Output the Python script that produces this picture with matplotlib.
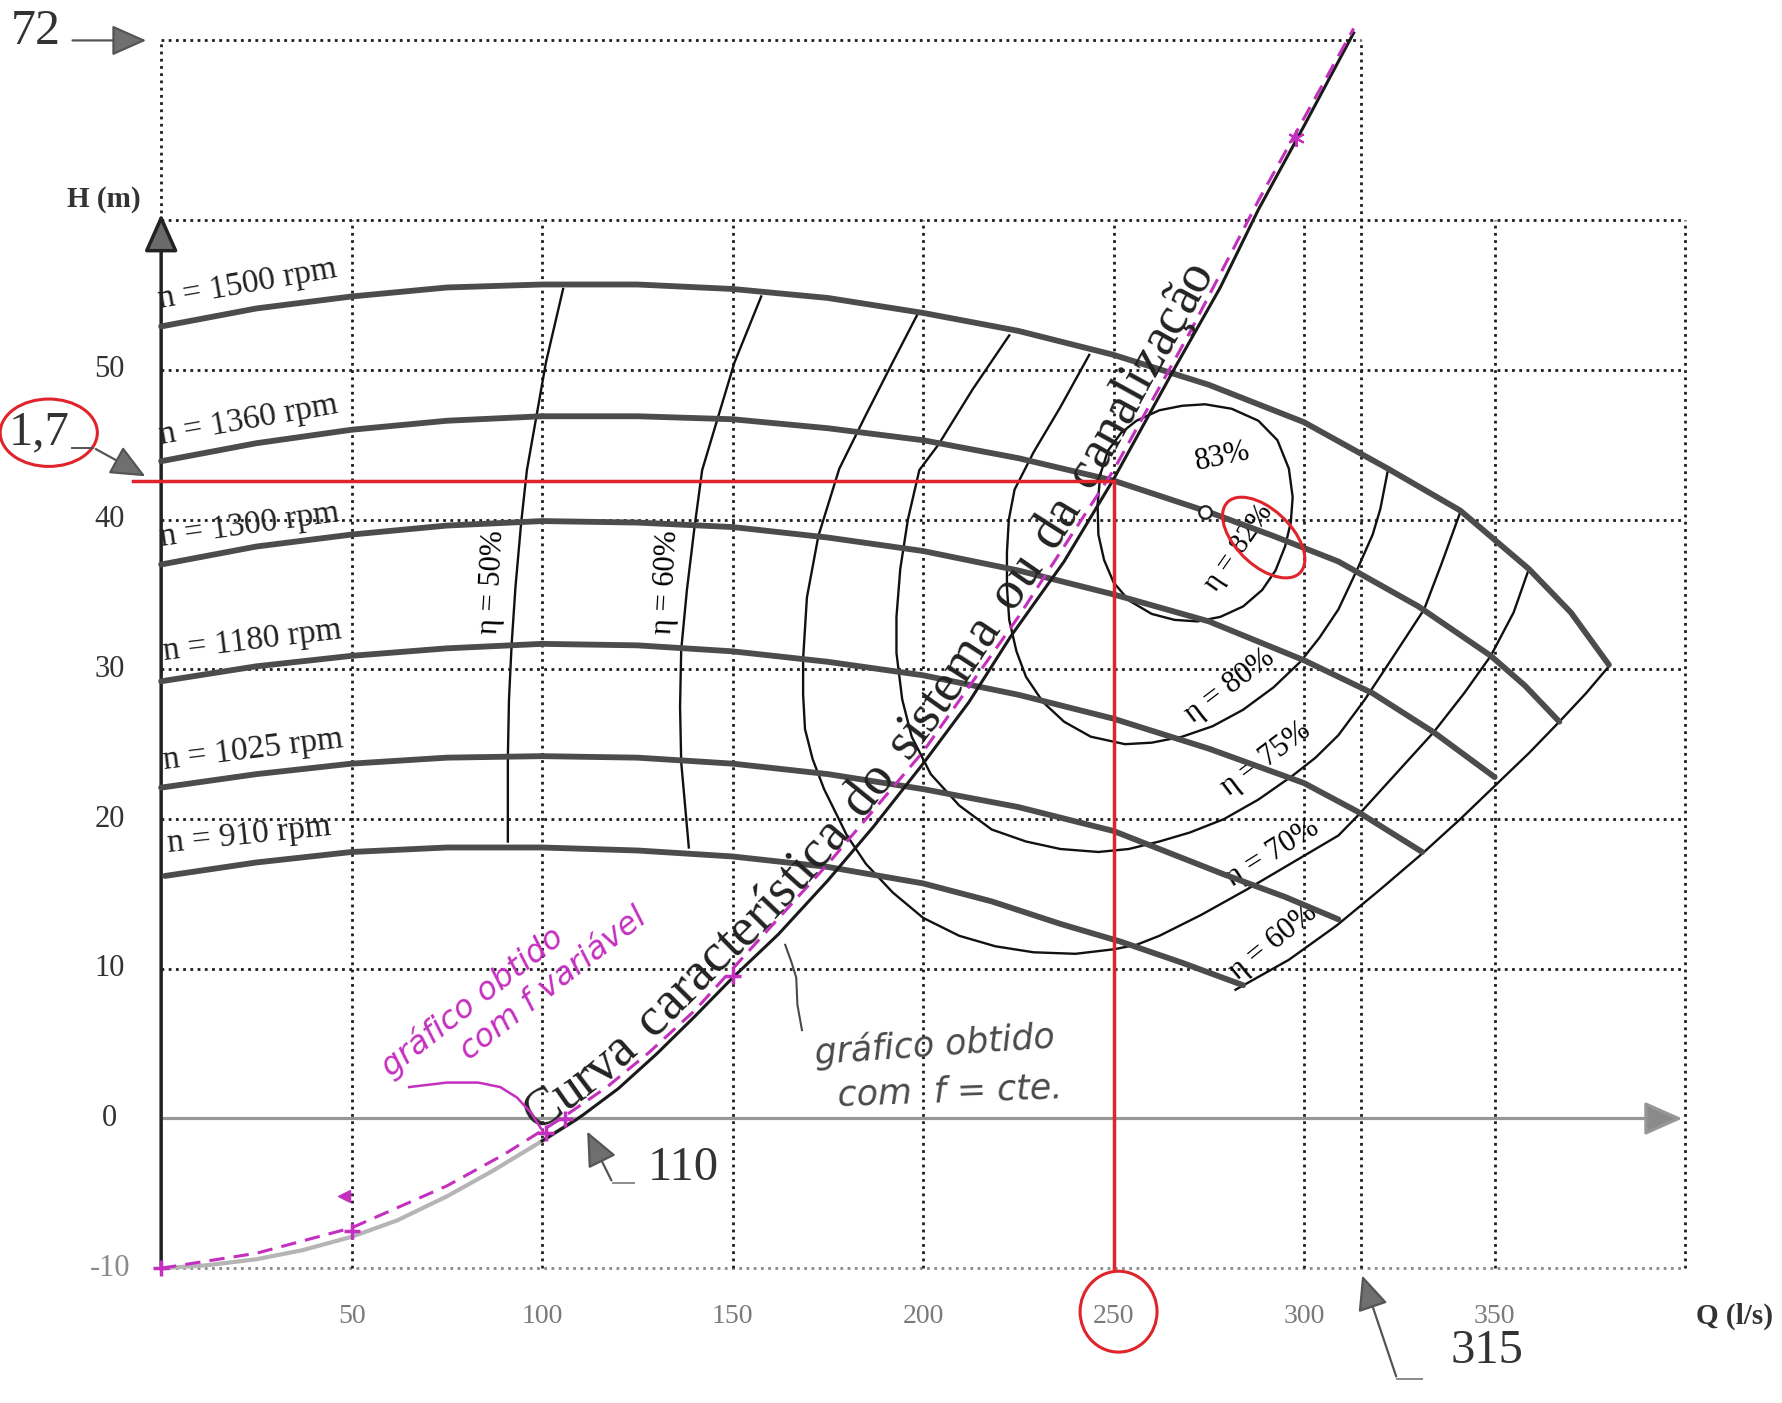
import numpy as np
import matplotlib
matplotlib.use('Agg')
import matplotlib.pyplot as plt
from matplotlib.patches import Ellipse
from matplotlib.font_manager import FontProperties

plt.rcParams['font.family'] = ['Liberation Serif', 'DejaVu Serif']

# pump curves, H (m) against Q (l/s)
q_1500 = [0, 25, 50, 75, 100, 125, 150, 175, 200, 225, 250, 275, 300, 322, 341, 359, 370, 380]
h_1500 = [52.9, 54.1, 54.9, 55.5, 55.7, 55.7, 55.4, 54.8, 53.8, 52.6, 51.0, 49.0, 46.5,
          43.4, 40.6, 36.7, 33.8, 30.3]
q_1360 = [0, 25, 50, 75, 100, 125, 150, 175, 200, 225, 250, 275, 292, 309, 330, 349, 358, 367]
h_1360 = [43.9, 45.1, 46.0, 46.6, 46.9, 46.9, 46.7, 46.1, 45.3, 44.1, 42.6, 40.5, 38.9,
          37.2, 34.2, 30.9, 28.9, 26.5]
q_1300 = [0, 25, 50, 75, 100, 125, 150, 175, 200, 225, 250, 275, 300, 318, 334, 350]
h_1300 = [37.0, 38.2, 39.0, 39.6, 39.9, 39.8, 39.5, 38.8, 37.9, 36.6, 35.0, 33.2, 30.6,
          28.4, 25.8, 22.8]
q_1180 = [0, 25, 50, 75, 100, 125, 150, 175, 200, 225, 250, 275, 300, 314, 331]
h_1180 = [29.2, 30.2, 30.9, 31.4, 31.7, 31.6, 31.2, 30.5, 29.6, 28.3, 26.7, 24.7, 22.4,
          20.5, 17.8]
q_1025 = [0, 25, 50, 75, 100, 125, 150, 175, 200, 225, 250, 279, 295, 309]
h_1025 = [22.1, 23.0, 23.7, 24.1, 24.2, 24.1, 23.7, 23.0, 22.0, 20.8, 19.2, 16.3, 14.8, 13.3]
q_910 = [1, 25, 50, 75, 100, 125, 150, 175, 200, 218, 236, 252, 268, 284]
h_910 = [16.2, 17.1, 17.8, 18.1, 18.1, 17.9, 17.5, 16.8, 15.7, 14.5, 13.0, 11.8, 10.4, 8.9]
rpm_labels = ['n = 1500 rpm', 'n = 1360 rpm', 'n = 1300 rpm',
              'n = 1180 rpm', 'n = 1025 rpm', 'n = 910 rpm']

# iso-efficiency curves
q_eta50 = [105.5, 101, 98.5, 96, 94.5, 93, 92, 91.3, 91, 91]
h_eta50 = [55.4, 50.5, 46.9, 43.3, 39.8, 35.5, 31.7, 28.0, 24.1, 18.5]
q_eta60 = [157.5, 150.5, 146, 142, 140, 138, 136.5, 136.2, 136.5, 138.5]
h_eta60 = [54.9, 50.5, 46.7, 43.3, 39.5, 35.3, 31.3, 27.5, 23.8, 18.1]
q_eta60_edge = [380, 374, 367, 359, 350, 341, 331.5, 320, 308.6, 296, 282]
h_eta60_edge = [30.2, 28.4, 26.5, 24.4, 22.2, 20.0, 17.8, 15.3, 12.9, 10.6, 8.6]
q_eta70 = [198.5, 192, 185, 178, 172.5, 169.5, 168.5, 168.5, 169, 171, 174, 180, 185, 192,
           200, 209.5, 219, 229, 240, 250, 256, 262, 273, 285, 297, 309, 314, 324, 334,
           342, 349, 355, 359]
h_eta70 = [53.7, 50.5, 47.0, 43.4, 38.9, 34.8, 30.7, 28.3, 26.0, 24.0, 22.0, 18.9, 17.0,
           15.1, 13.4, 12.2, 11.5, 11.1, 11.0, 11.3, 11.6, 12.2, 13.6, 15.3, 17.1, 18.9,
           20.2, 23.0, 25.8, 28.4, 30.9, 33.8, 36.7]
q_eta75 = [222.6, 213, 204, 199, 196, 194, 193, 193, 194.5, 197, 202, 209.5, 218, 227, 236,
           246, 254, 262, 270, 279, 288, 297, 303, 309, 316, 322.5, 331.5, 336, 341]
h_eta75 = [52.3, 48.7, 45.0, 43.3, 40.0, 36.7, 33.5, 31.1, 28.0, 25.5, 23.0, 20.9, 19.3,
           18.5, 18.0, 17.8, 18.0, 18.5, 19.1, 20.0, 21.3, 22.9, 24.1, 25.6, 28.0, 30.5,
           34.0, 37.0, 40.5]
q_eta80 = [243.6, 236, 229, 224, 222.5, 222, 222, 222.6, 224.5, 227, 231.5, 237, 244, 253,
           260, 268, 276, 284, 292, 299, 304, 309, 314, 318, 320, 322]
h_eta80 = [51.0, 47.5, 44.5, 42.0, 40.0, 37.8, 35.5, 33.3, 31.2, 29.5, 27.8, 26.5, 25.5,
           25.0, 25.1, 25.5, 26.2, 27.3, 28.8, 30.5, 32.1, 34.0, 36.7, 39.0, 40.7, 43.3]
q_eta82 = [246.5, 248.5, 252, 256, 262, 268, 274, 281, 288, 293, 296, 297, 296.5, 295,
           292.5, 289, 284, 278, 272, 266, 260, 254, 250, 247.5, 246, 245.8, 246.5]
h_eta82 = [43.0, 44.6, 45.8, 46.6, 47.3, 47.6, 47.7, 47.4, 46.6, 45.3, 43.4, 41.5, 39.8,
           38.2, 36.6, 35.3, 34.2, 33.5, 33.2, 33.3, 33.7, 34.6, 35.8, 37.3, 39.0, 41.0,
           43.0]
bep_q, bep_h = 274, 40.5

# system curve (printed) and the hand drawn one
q_sys = [0, 12, 25, 37, 50, 62, 75, 87, 100, 110, 120, 130, 140, 150, 162, 175, 187, 200,
         212, 223, 237, 250, 266, 278, 288, 300, 313]
h_sys = [-10, -9.8, -9.4, -8.8, -7.9, -6.8, -5.2, -3.5, -1.5, 0.1, 2.0, 4.3, 6.8, 9.4,
         12.3, 15.9, 19.5, 23.7, 27.8, 32.2, 37.2, 42.7, 50.1, 55.5, 60.7, 66.3, 72.5]
q_sys_f = [0, 25, 50, 75, 90, 105, 117, 128, 140, 150, 175, 200, 225, 250, 270, 288, 313]
h_sys_f = [-10, -9.0, -7.3, -4.5, -2.4, 0, 2.1, 4.4, 7.2, 10.0, 17.0, 24.5, 33.5, 43.3,
           52.5, 61.3, 72.8]
q_marks = [0, 50, 101, 106, 150]
h_marks = [-10, -7.5, -1.0, 0, 9.5]

# operating point
q_op, h_op = 250, 42.6

x_ticks = [50, 100, 150, 200, 250, 300, 350]
y_ticks = [50, 40, 30, 20, 10, 0, -10]

fig = plt.figure(figsize=(17.83, 14.03), dpi=100)
ax = fig.add_axes([0, 0, 1, 1])
ax.set_xlim(-42.3, 425.7)
ax.set_ylim(-19.0, 74.7)
ax.axis('off')

# dotted grid
dot = dict(color='#1e1e1e', lw=2.0, ls=(0, (1.0, 1.6)), zorder=1)
for h in [10, 20, 30, 40, 50, 60]:
    ax.plot([0, 400], [h, h], **dot)
ax.plot([0, 400], [-10, -10], color='#8a8a8a', lw=2.0, ls=(0, (1.0, 1.6)), zorder=1)
for q in x_ticks + [400]:
    ax.plot([q, q], [-10, 60], **dot)
ax.plot([0, 0], [60, 72], **dot)
ax.plot([0, 315], [72, 72], **dot)
ax.plot([315, 315], [-10, 72], **dot)

# axes with arrows
ax.annotate('', xy=(0, 60.6), xytext=(0, -10.2),
            arrowprops=dict(arrowstyle='-|>,head_length=0.9,head_width=0.4',
                            lw=2.5, ec='#222222', fc='#6a6a6a', mutation_scale=26),
            zorder=3)
ax.annotate('', xy=(400, 0), xytext=(0, 0),
            arrowprops=dict(arrowstyle='-|>,head_length=0.9,head_width=0.4',
                            lw=2.3, ec='#979797', fc='#8a8a8a', mutation_scale=26),
            zorder=2)

for h in y_ticks:
    ax.text(-13.5, h, str(h), ha='center', va='center', fontsize=22,
            color='#333333' if h > -10 else '#8a8a8a')
for q in x_ticks:
    ax.text(q, -13.2, str(q), ha='center', va='center', fontsize=20, color='#7a7a7a')
ax.text(-15, 61.4, 'H (m)', ha='center', va='center', fontsize=21, fontweight='bold',
        color='#333333')
ax.text(413, -13.2, 'Q (l/s)', ha='center', va='center', fontsize=21, fontweight='bold',
        color='#333333')

# pump curves
pump = dict(color='#4c4c4c', lw=4.2, solid_capstyle='round', solid_joinstyle='round',
            zorder=4)
pump_q = [q_1500, q_1360, q_1300, q_1180, q_1025, q_910]
pump_h = [h_1500, h_1360, h_1300, h_1180, h_1025, h_910]
lab_pos = [(22.7, 55.7, 10), (22.8, 46.6, 10), (23.3, 39.6, 8),
           (24.0, 31.9, 7), (24.0, 24.6, 7), (23.0, 18.9, 6)]
for qs, hs, lab, (lq, lh, rot) in zip(pump_q, pump_h, rpm_labels, lab_pos):
    ax.plot(qs, hs, **pump)
    ax.text(lq, lh, lab, ha='center', va='center', fontsize=24, rotation=rot,
            color='#222222', zorder=5)

# efficiency curves
eff = dict(color='#111111', lw=1.7, solid_joinstyle='round', zorder=3)
for qs, hs in [(q_eta50, h_eta50), (q_eta60, h_eta60), (q_eta60_edge, h_eta60_edge),
               (q_eta70, h_eta70), (q_eta75, h_eta75), (q_eta80, h_eta80),
               (q_eta82, h_eta82)]:
    ax.plot(qs, hs, **eff)
ax.plot(bep_q, bep_h, 'o', mfc='white', mec='#222222', ms=9, mew=1.6, zorder=6)

ax.text(87, 35.8, 'η = 50%', rotation=87, ha='center', va='center', fontsize=22)
ax.text(132.5, 35.8, 'η = 60%', rotation=87, ha='center', va='center', fontsize=22)
ax.text(278.5, 44.2, '83%', rotation=12, ha='center', va='center', fontsize=22)
ax.text(283, 38.1, 'η = 82%', rotation=55, ha='center', va='center', fontsize=21)
ax.text(280.6, 28.9, 'η = 80%', rotation=37, ha='center', va='center', fontsize=22)
ax.text(290, 24.0, 'η = 75%', rotation=37, ha='center', va='center', fontsize=22)
ax.text(291.6, 17.7, 'η = 70%', rotation=32, ha='center', va='center', fontsize=22)
ax.text(292, 11.8, 'η = 60%', rotation=39, ha='center', va='center', fontsize=22)

# system curve: faded below Q = 100, black above
n_low = 10
ax.plot(q_sys[:n_low], h_sys[:n_low], color='#b5b5b5', lw=3.0, zorder=4)
ax.plot(q_sys[n_low - 2:], h_sys[n_low - 2:], color='#1a1a1a', lw=2.2, zorder=4)
magenta = '#c42fbf'
ax.plot(q_sys_f, h_sys_f, color=magenta, lw=2.2, ls=(0, (5, 3)), zorder=5)
ax.plot(q_marks, h_marks, '+', color=magenta, ms=12, mew=2.5, zorder=6)
ax.plot([298], [65.5], marker=(6, 2, 0), color=magenta, ms=12, mew=1.5, zorder=6)
ax.plot([48], [-5.2], marker='<', color=magenta, ms=9, zorder=6)

# curved label along the system curve
renderer = fig.canvas.get_renderer()
fp = FontProperties(family='Liberation Serif', size=39)
pts = ax.transData.transform(np.column_stack([q_sys, h_sys]))
seg = np.diff(pts, axis=0)
cum = np.concatenate([[0], np.cumsum(np.hypot(seg[:, 0], seg[:, 1]))])


def point_at(s):
    return np.interp(s, cum, pts[:, 0]), np.interp(s, cum, pts[:, 1])


def adv(ch):
    w1 = renderer.get_text_width_height_descent('l' + ch + 'l', fp, ismath=False)[0]
    w0 = renderer.get_text_width_height_descent('ll', fp, ismath=False)[0]
    return (w1 - w0) * (1.5 if ch == ' ' else 1.0)


label = 'Curva característica do sistema ou da canalização'
s = np.interp(100, q_sys, cum)
inv = ax.transData.inverted()
for ch in label:
    w = adv(ch)
    sm = s + w / 2
    x0, y0 = point_at(sm - 45)
    x1, y1 = point_at(sm + 45)
    ang = np.arctan2(y1 - y0, x1 - x0)
    px, py = point_at(sm)
    px -= 13 * np.sin(ang)
    py += 13 * np.cos(ang)
    dq, dh = inv.transform((px, py))
    ax.text(dq, dh, ch, fontproperties=fp, rotation=np.degrees(ang),
            rotation_mode='anchor', ha='center', va='baseline', color='#222222',
            zorder=5)
    s += w

# handwritten notes
ax.text(81.6, 7.8, 'gráfico obtido', rotation=38, ha='center', va='center',
        fontsize=23, color=magenta, family='DejaVu Sans', style='italic')
ax.text(103, 9.0, 'com f variável', rotation=38, ha='center', va='center',
        fontsize=23, color=magenta, family='DejaVu Sans', style='italic')
ax.plot([65.1, 75, 83.2, 89, 93.4, 97, 100.3], [2.1, 2.4, 2.4, 2.1, 1.4, 0.4, -0.9],
        color=magenta, lw=1.8, zorder=5)
ax.text(203, 4.9, 'gráfico obtido', rotation=4, ha='center', va='center',
        fontsize=25, color='#4a4a4a', family='DejaVu Sans', style='italic')
ax.text(207, 1.8, 'com  f = cte.', rotation=2, ha='center', va='center',
        fontsize=25, color='#4a4a4a', family='DejaVu Sans', style='italic')
ax.plot([168.2, 167.0, 166.7, 165.5, 163.8], [5.9, 7.6, 9.4, 10.4, 11.6],
        color='#4a4a4a', lw=1.5, zorder=5)

# red construction for the operating point
red = '#e0242b'
ax.plot([-7.5, q_op], [h_op, h_op], color=red, lw=2.5, zorder=6)
ax.plot([q_op, q_op], [h_op, -10], color=red, lw=2.5, zorder=6)
ax.add_patch(Ellipse((-29.5, 45.8), 25.5, 4.5, fill=False, ec=red, lw=2.2))
ax.add_patch(Ellipse((289.4, 38.8), 21.8, 4.5, angle=-8, fill=False, ec=red, lw=2.2,
                     zorder=7))
ax.add_patch(Ellipse((251.3, -12.9), 20.2, 5.4, fill=False, ec=red, lw=2.2))

# callouts
head = dict(arrowstyle='-|>,head_length=0.9,head_width=0.4', lw=1.6, ec='#555555',
            fc='#6f6f6f', mutation_scale=24)
ax.text(-33, 72.6, '72', ha='center', va='center', fontsize=36, color='#333333')
ax.annotate('', xy=(-3.2, 72.0), xytext=(-24, 72.0), arrowprops=head)
ax.text(-32, 45.8, '1,7', ha='center', va='center', fontsize=35, color='#333333')
ax.plot([-23.4, -17.8], [44.8, 44.8], color='#555555', lw=1.4)
ax.annotate('', xy=(-3.5, 42.8), xytext=(-17.8, 44.8), arrowprops=head)
ax.text(137, -3.3, '110', ha='center', va='center', fontsize=35, color='#333333')
ax.plot([118.5, 124], [-4.3, -4.3], color='#8a8a8a', lw=1.4)
ax.annotate('', xy=(111.5, -0.7), xytext=(118.5, -4.3), arrowprops=head)
ax.text(348, -15.5, '315', ha='center', va='center', fontsize=35, color='#333333')
ax.plot([324.4, 331], [-17.4, -17.4], color='#8a8a8a', lw=1.4)
ax.annotate('', xy=(315, -10.3), xytext=(324.4, -17.4), arrowprops=head)

fig.savefig('out.png', dpi=100)
